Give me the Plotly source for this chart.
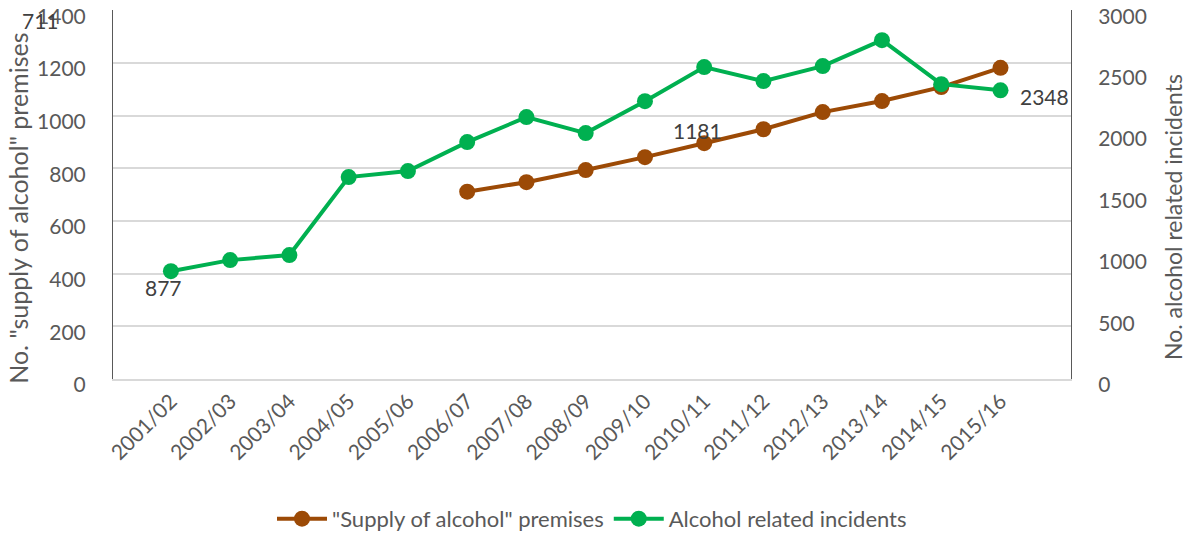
import plotly.graph_objects as go

years = ["2001/02", "2002/03", "2003/04", "2004/05", "2005/06", "2006/07", "2007/08",
         "2008/09", "2009/10", "2010/11", "2011/12", "2012/13", "2013/14", "2014/15", "2015/16"]
premises_years = years[5:]
premises = [711, 747, 793, 842, 895, 948, 1013, 1055, 1108, 1181]
incidents = [877, 967, 1008, 1642, 1691, 1927, 2130, 2000, 2260, 2537, 2423, 2545, 2756, 2398, 2348]
left_title = 'No. "supply of alcohol" premises'
right_title = "No. alcohol related incidents"

BROWN = "#9C4A06"
GREEN = "#00B050"
GREY = "#595959"
FONT = "Lato"
TICK = 21

fig = go.Figure()
fig.add_trace(go.Scatter(
    x=premises_years, y=premises, name='"Supply of alcohol" premises',
    mode="lines+markers", line=dict(color=BROWN, width=4),
    marker=dict(size=16, color=BROWN), yaxis="y"))
fig.add_trace(go.Scatter(
    x=years, y=incidents, name="Alcohol related incidents",
    mode="lines+markers", line=dict(color=GREEN, width=4),
    marker=dict(size=16, color=GREEN), yaxis="y2"))

ann_font = dict(family=FONT, size=TICK, color="#404040")
fig.add_annotation(text=str(premises[0]), xref="paper", yref="y", x=-0.097, y=1362,
                   showarrow=False, font=ann_font)
fig.add_annotation(text=str(incidents[0]), x=years[0], y=incidents[0], yref="y2",
                   showarrow=False, font=ann_font, xshift=-7, yshift=-16)
fig.add_annotation(text=str(premises[-1]), x=years[9], y=premises[-1], yref="y",
                   showarrow=False, font=ann_font, xshift=-7, yshift=-63)
fig.add_annotation(text=str(incidents[-1]), x=years[-1], y=incidents[-1], yref="y2",
                   showarrow=False, font=ann_font, xshift=44, yshift=-6)

# axis titles
fig.add_annotation(text=left_title, xref="paper", yref="paper", x=-0.0985, y=0.463,
                   textangle=-90, showarrow=False, xanchor="center", yanchor="middle",
                   font=dict(family=FONT, size=25, color=GREY))
fig.add_annotation(text=right_title, xref="paper", yref="paper", x=1.1065, y=0.439,
                   textangle=-90, showarrow=False, xanchor="center", yanchor="middle",
                   font=dict(family=FONT, size=23, color=GREY))

fig.update_layout(
    width=1193, height=540,
    margin=dict(l=105, r=130, t=2, b=169),
    paper_bgcolor="white", plot_bgcolor="white",
    font=dict(family=FONT, size=TICK, color=GREY),
    showlegend=True,
    legend=dict(orientation="h", x=0.5, xanchor="center", y=-0.379, yanchor="middle",
                font=dict(family=FONT, size=22, color=GREY), itemwidth=50,
                traceorder="normal"),
    xaxis=dict(type="category", categoryorder="array", categoryarray=years,
               tickangle=-45, showgrid=False, showline=True, linecolor="#D9D9D9",
               linewidth=1.5, ticks="", tickfont=dict(size=TICK, color=GREY),
               automargin=False),
    yaxis=dict(range=[0, 1400.6], tickvals=[0, 200, 400, 600, 800, 1000, 1200, 1400],
               showgrid=True, gridcolor="#D9D9D9",
               gridwidth=1.5, showline=True, linecolor="#595959", linewidth=1,
               zeroline=False, ticks="", ticklabelstandoff=22, automargin=False,
               ticklabeloverflow="allow", ticklabelshift=6,
               tickfont=dict(size=TICK, color=GREY)),
    yaxis2=dict(range=[0, 3001.29], tickvals=[0, 500, 1000, 1500, 2000, 2500, 3000],
                overlaying="y", side="right",
                showgrid=False, showline=True, linecolor="#595959", linewidth=1,
                zeroline=False, ticks="", ticklabelstandoff=22, automargin=False,
                ticklabeloverflow="allow", ticklabelshift=6,
                tickfont=dict(size=TICK, color=GREY)),
)

fig.write_html("out.html", config={"displayModeBar": False})
